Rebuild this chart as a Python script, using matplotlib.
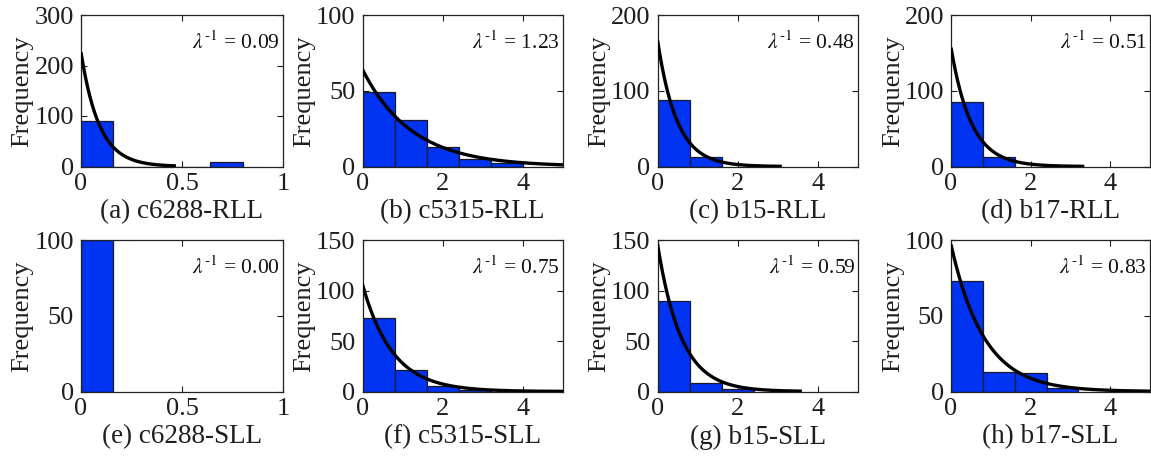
import numpy as np
import matplotlib
matplotlib.use("Agg")
import matplotlib.pyplot as plt

plt.rcParams['font.family'] = ['Liberation Serif', 'DejaVu Serif']
plt.rcParams['mathtext.fontset'] = 'stix'

# ---------------- data ----------------
titles = ["(a) c6288-RLL", "(b) c5315-RLL", "(c) b15-RLL", "(d) b17-RLL",
          "(e) c6288-SLL", "(f) c5315-SLL", "(g) b15-SLL", "(h) b17-SLL"]
lambda_inv = ["0.09", "1.23", "0.48", "0.51", "0.00", "0.75", "0.59", "0.83"]

bin_width = [0.16, 0.8, 0.8, 0.8, 0.16, 0.8, 0.8, 0.8]
counts_a = [91, 0, 0, 0, 9]
counts_b = [49, 31, 13, 5, 2]
counts_c = [88, 12]
counts_d = [85, 12]
counts_e = [100]
counts_f = [73, 21, 5, 1]
counts_g = [90, 8, 2]
counts_h = [73, 13, 12, 2]
counts = [counts_a, counts_b, counts_c, counts_d,
          counts_e, counts_f, counts_g, counts_h]

# fitted exponential curves: amplitude at x=0, mean, end of curve
fit_amp = [226, 64, 167, 157, None, 106, 146, 97]
fit_mu = [0.09, 1.23, 0.48, 0.51, None, 0.75, 0.59, 0.83]
fit_end = [0.47, 5.0, 3.1, 3.35, None, 5.0, 3.6, 5.0]

xlims = [1, 5, 5, 5, 1, 5, 5, 5]
xticks = [[0, 0.5, 1], [0, 2, 4], [0, 2, 4], [0, 2, 4],
          [0, 0.5, 1], [0, 2, 4], [0, 2, 4], [0, 2, 4]]
xticklabels = [["0", "0.5", "1"], ["0", "2", "4"], ["0", "2", "4"], ["0", "2", "4"],
               ["0", "0.5", "1"], ["0", "2", "4"], ["0", "2", "4"], ["0", "2", "4"]]
yticks = [[0, 100, 200, 300], [0, 50, 100], [0, 100, 200], [0, 100, 200],
          [0, 50, 100], [0, 50, 100, 150], [0, 50, 100, 150], [0, 50, 100]]

# ---------------- layout ----------------
W, H = 1151, 457
fig = plt.figure(figsize=(W / 100, H / 100), dpi=100)
lefts = [81, 362.5, 657.5, 951]
widths = [202, 200.5, 200.5, 199]
tops = [15, 240]
ax_h = 151.5

bar_color = '#0033f2'
txt = '#1e1e1e'

for i in range(8):
    r, c = divmod(i, 4)
    ax = fig.add_axes([lefts[c] / W, 1 - (tops[r] + ax_h) / H, widths[c] / W, ax_h / H])
    w = bin_width[i]
    cnt = counts[i]
    edges = np.arange(len(cnt)) * w
    ax.bar(edges, cnt, width=w, align='edge', color=bar_color,
           edgecolor='#1a1a2a', linewidth=0.9, zorder=2)
    if fit_amp[i] is not None:
        xs = np.linspace(0, fit_end[i], 300)
        ax.plot(xs, fit_amp[i] * np.exp(-xs / fit_mu[i]), color='black', lw=2.4,
                zorder=3, solid_capstyle='butt')
    ax.set_xlim(0, xlims[i])
    ax.set_ylim(yticks[i][0], yticks[i][-1])
    ax.set_xticks(xticks[i])
    ax.set_xticklabels(xticklabels[i])
    ax.set_yticks(yticks[i])
    ax.tick_params(direction='in', top=True, right=True, length=4, width=0.8,
                   labelsize=19, pad=5, colors=txt, labelcolor=txt)
    for s in ax.spines.values():
        s.set_linewidth(0.9)
        s.set_color('#222222')
    ax.set_ylabel("Frequency", fontsize=19, color=txt)
    ax.yaxis.set_label_coords(-0.235, 0.5)
    ax.text(0.985, 0.815, r"$\lambda^{\text{-1}}$ = " + lambda_inv[i], transform=ax.transAxes,
            ha='right', va='center', fontsize=15.5, color='#111111')
    ax.text(0.5, -0.30, titles[i], transform=ax.transAxes, ha='center', va='center',
            fontsize=19.5, color=txt)

fig.savefig("out.png", dpi=100)
